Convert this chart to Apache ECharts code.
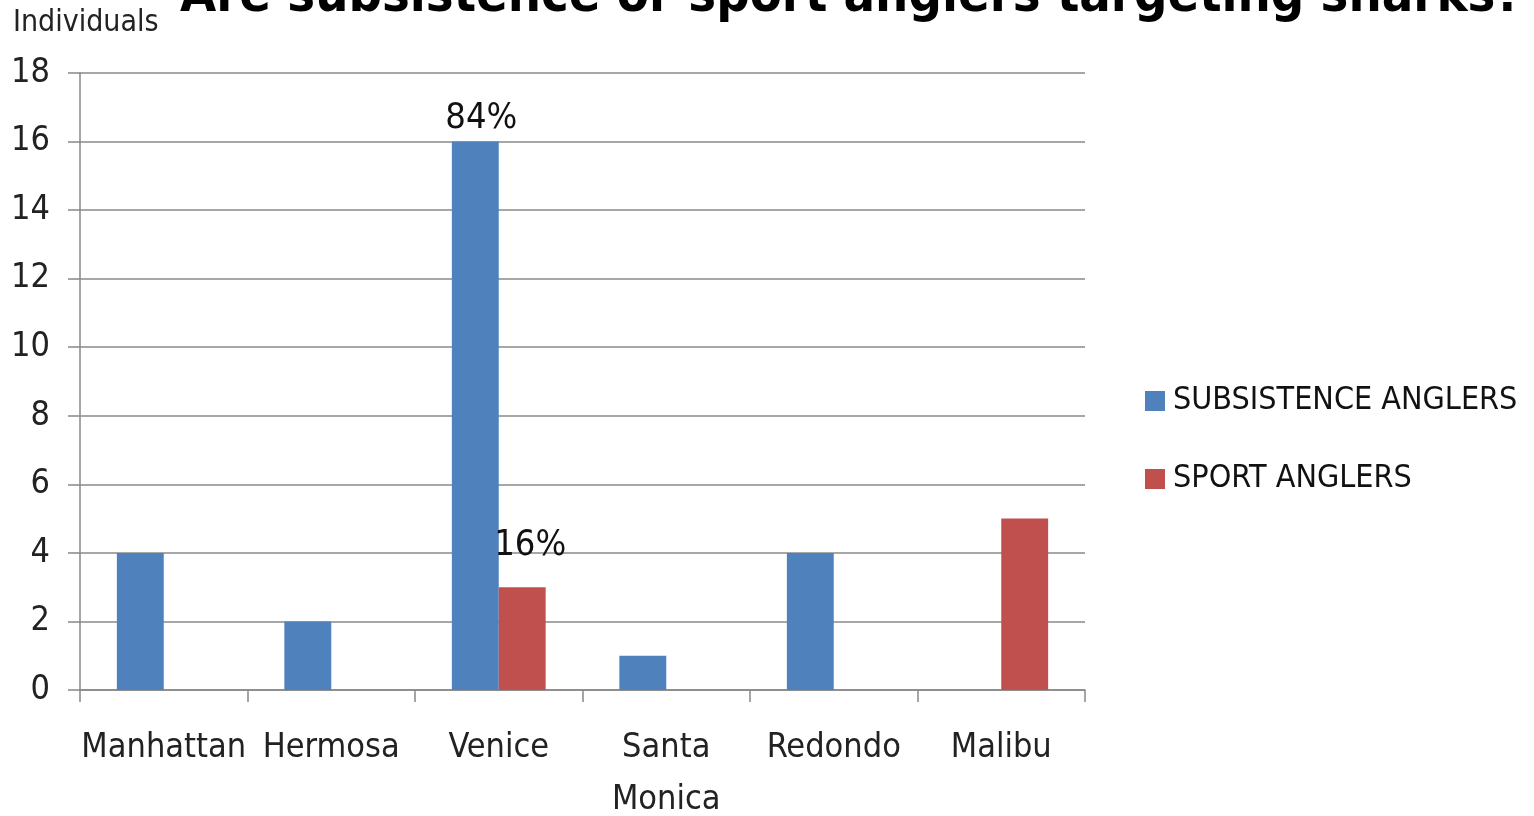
<!DOCTYPE html>
<html><head><meta charset="utf-8">
<script src="https://cdn.jsdelivr.net/npm/echarts@6/dist/echarts.min.js"></script>
<style>html,body{margin:0;padding:0;background:#fff}#c{width:1534px;height:816px}</style>
</head><body><div id="c"></div>
<script>
const categories = ['Manhattan', 'Hermosa', 'Venice', 'Santa\nMonica', 'Redondo', 'Malibu'];
const subsistence = [4, 2, 16, 1, 4, 0];
const sport = [0, 0, 3, 0, 0, 5];
const subsistenceLabels = ['', '', '84%', '', '', ''];
const sportLabels = ['', '', '16%', '', '', ''];
const yTicks = [0, 2, 4, 6, 8, 10, 12, 14, 16, 18];

const FONT = '"DejaVu Sans Condensed", "Roboto", sans-serif';
const chart = echarts.init(document.getElementById('c'));
chart.setOption({
  animation: false,
  title: {
    text: 'Are subsistence or sport anglers targeting sharks?',
    left: 175, top: -34,
    textStyle: {fontFamily: FONT, fontSize: 52, fontWeight: 'bold', color: '#000'}
  },
  graphic: [{type: 'text', left: 13, top: 8, style: {text: 'Individuals', font: '30px ' + FONT, fill: '#222'}}],
  legend: {
    orient: 'vertical', left: 1145, top: 385, padding: 0, itemWidth: 20, itemHeight: 20, itemGap: 46,
    icon: 'rect',
    textStyle: {fontFamily: FONT, fontSize: 32, color: '#111', padding: [0, 0, 0, 3]},
    data: ['SUBSISTENCE ANGLERS', 'SPORT ANGLERS']
  },
  grid: {left: 80, right: 449, top: 73, bottom: 126, outerBoundsMode: 'none', containLabel: false},
  xAxis: {
    type: 'category', data: categories,
    axisLine: {lineStyle: {color: '#888', width: 1.5}},
    axisTick: {show: true, length: 12, lineStyle: {color: '#888', width: 1.5}},
    axisLabel: {margin: 32, fontFamily: FONT, fontSize: 34, color: '#222', lineHeight: 52, interval: 0}
  },
  yAxis: {
    type: 'value', min: 0, max: 18, interval: 2,
    axisLine: {show: true, lineStyle: {color: '#888', width: 1.5}},
    axisTick: {show: true, length: 12, lineStyle: {color: '#888', width: 1.5}},
    splitLine: {lineStyle: {color: '#8a8a8a', width: 1.5}},
    axisLabel: {margin: 30, fontFamily: FONT, fontSize: 34, color: '#222',
      formatter: v => yTicks.includes(v) ? String(v) : ''}
  },
  series: [
    {name: 'SUBSISTENCE ANGLERS', type: 'bar', data: subsistence, barGap: '0%', barCategoryGap: '44%',
     itemStyle: {color: '#4F81BD'},
     label: {show: true, position: 'top', distance: 5, offset: [6, 0], fontFamily: FONT, fontSize: 36, color: '#111',
       formatter: p => subsistenceLabels[p.dataIndex]}},
    {name: 'SPORT ANGLERS', type: 'bar', data: sport, barGap: '0%', barCategoryGap: '44%',
     itemStyle: {color: '#C0504D'},
     label: {show: true, position: 'top', distance: 24, offset: [8, 0], fontFamily: FONT, fontSize: 36, color: '#111',
       formatter: p => sportLabels[p.dataIndex]}}
  ]
});
</script></body></html>
